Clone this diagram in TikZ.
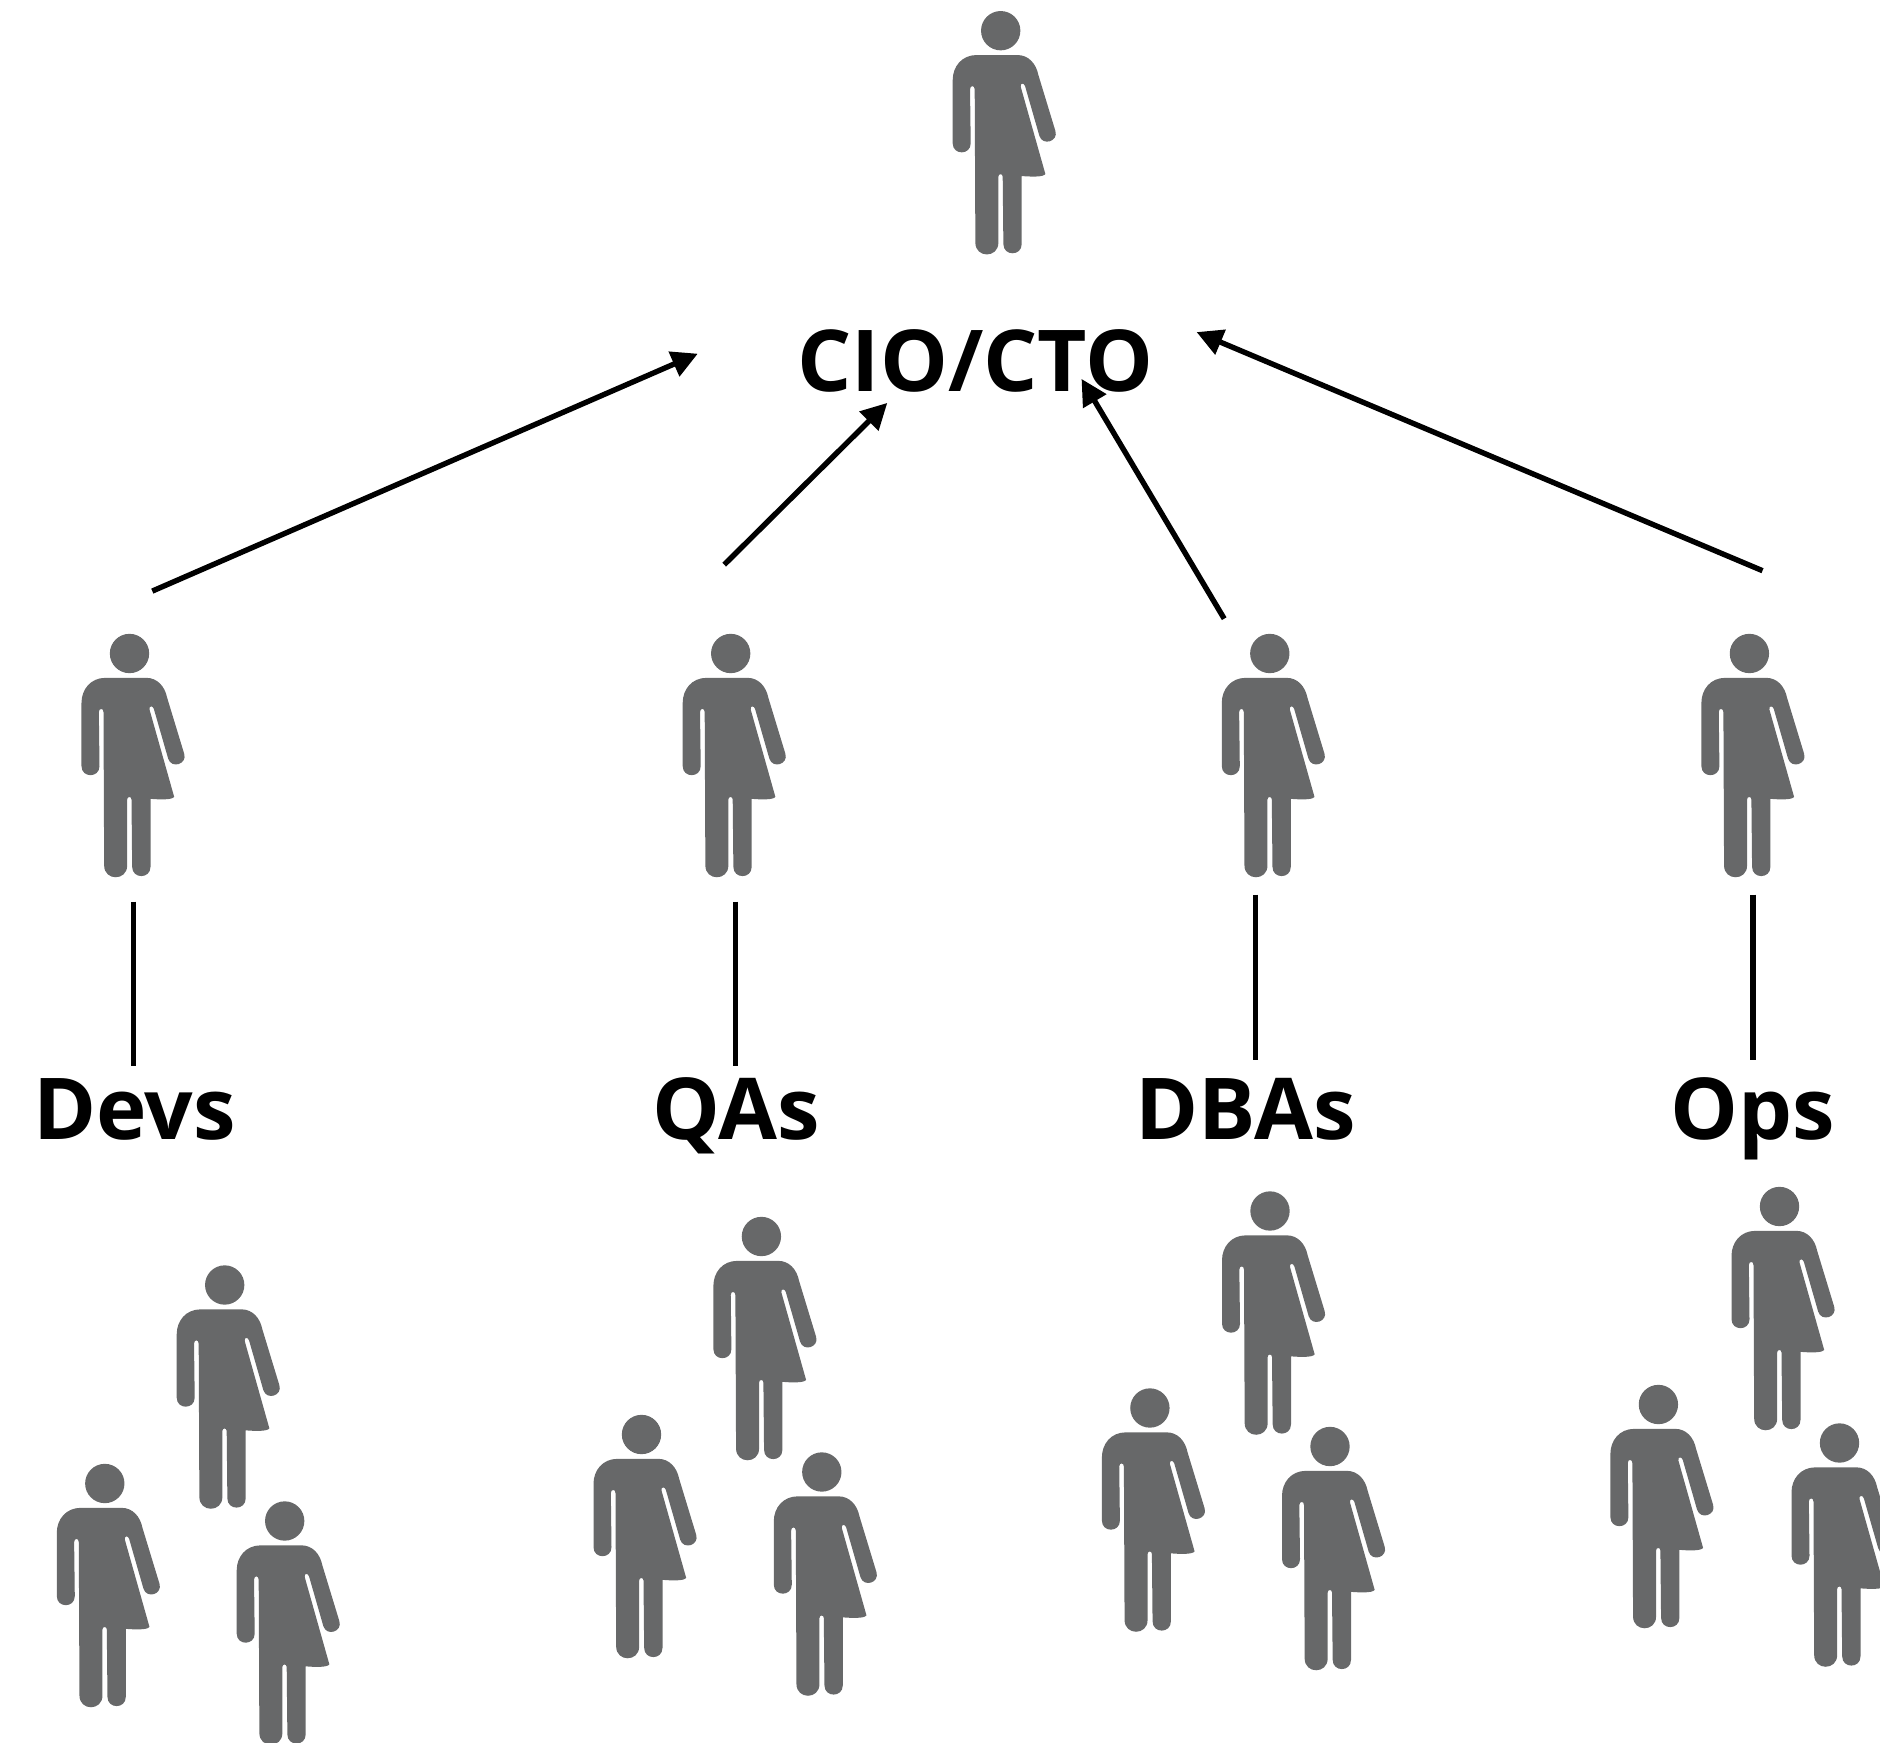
\documentclass[tikz,border=0pt]{standalone}
\usepackage{fontspec}
\setmainfont{Open Sans}
\usetikzlibrary{arrows.meta}
\definecolor{persongrey}{HTML}{676869}
\tikzset{
  x=0.5pt,y=-0.5pt,
  person/.pic={
    \fill[persongrey,x=0.16667pt,y=-0.16667pt,shift={(-212,-92)}]
      (212,92) circle[radius=59]
      (140,165) -- (262,165) .. controls (295,165) and (318,190) .. (325,225)
      -- (376,392.5) .. controls (386,424) and (338,439) .. (328,407.5)
      -- (285,258) .. controls (282,248) and (270,248) .. (272,260)
      -- (346,522) .. controls (340,532) and (300,530) .. (275,528)
      -- (275,732) .. controls (275,769) and (220,769) .. (220,732)
      -- (218,530) .. controls (218,520) and (205,520) .. (205,530)
      -- (205,728) .. controls (205,775) and (136,775) .. (136,728)
      -- (134,268) .. controls (134,255) and (120,255) .. (120,268)
      -- (122,430) .. controls (122,466) and (68,466) .. (68,430)
      -- (68,240) .. controls (68,200) and (95,165) .. (140,165) -- cycle;
  },
  label text/.style={font=\fontsize{42.7pt}{52pt}\selectfont\bfseries,text=black,anchor=base,inner sep=0pt},
  connector/.style={draw=black,line width=2.7pt},
  report/.style={connector,-{Triangle[length=13pt,width=13pt]}}
}
\begin{document}
\begin{tikzpicture}
\path[use as bounding box,clip] (0,0) rectangle (1880,1743);
% figures
\pic (cio) at (1000.7,30.7) {person};
\pic (lead1) at (129.5,653.5) {person};
\pic (lead2) at (730.7,653.5) {person};
\pic (lead3) at (1269.8,653.5) {person};
\pic (lead4) at (1749.4,653.5) {person};
\pic (dev1) at (224.7,1285) {person};
\pic (dev2) at (104.8,1483.5) {person};
\pic (dev3) at (284.7,1521) {person};
\pic (qa1) at (761.4,1236.5) {person};
\pic (qa2) at (641.5,1434.5) {person};
\pic (qa3) at (821.8,1472) {person};
\pic (dba1) at (1270,1211) {person};
\pic (dba2) at (1149.9,1408) {person};
\pic (dba3) at (1330,1446.5) {person};
\pic (ops1) at (1779.5,1206.5) {person};
\pic (ops2) at (1658.4,1404.5) {person};
\pic (ops3) at (1839.5,1443) {person};
% labels
\node[label text] (ciolabel) at (975.4,392) {CIO/CTO};
\node[label text] (devs) at (134.5,1139) {Devs};
\node[label text] (qas) at (736,1139) {QAs};
\node[label text] (dbas) at (1245.5,1139) {DBAs};
\node[label text] (ops) at (1753,1139) {Ops};
% connector ends
\coordinate (a1s) at (152.3,591.1);
\coordinate (a1e) at (697.8,353.7);
\coordinate (a2s) at (724.2,564.7);
\coordinate (a2e) at (887.3,402.9);
\coordinate (a3s) at (1224.2,618.7);
\coordinate (a3e) at (1081.5,378.9);
\coordinate (a4s) at (1762.5,570.7);
\coordinate (a4e) at (1196.6,332.1);
\coordinate (b1s) at (133.7,901.6);
\coordinate (b1e) at (133.7,1066);
\coordinate (b2s) at (735.3,901.6);
\coordinate (b2e) at (735.3,1066);
\coordinate (b3s) at (1255.4,894.5);
\coordinate (b3e) at (1255.4,1060);
\coordinate (b4s) at (1753,894.5);
\coordinate (b4e) at (1753,1060);
% connectors
\draw[report] (a1s) -- (a1e);
\draw[report] (a2s) -- (a2e);
\draw[report] (a3s) -- (a3e);
\draw[report] (a4s) -- (a4e);
\draw[connector] (b1s) -- (b1e);
\draw[connector] (b2s) -- (b2e);
\draw[connector] (b3s) -- (b3e);
\draw[connector] (b4s) -- (b4e);
\end{tikzpicture}
\end{document}
